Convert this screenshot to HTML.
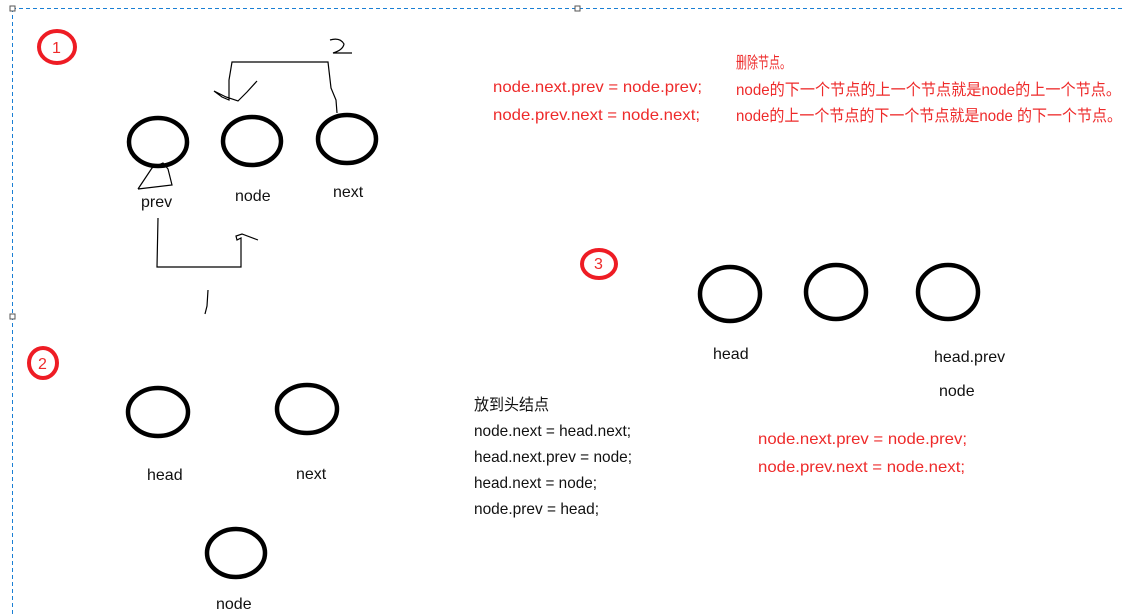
<!DOCTYPE html>
<html><head><meta charset="utf-8"><style>
html,body{margin:0;padding:0;background:#fff;}
svg{display:block;}
text{font-family:"Liberation Sans","Noto Sans CJK SC",sans-serif;font-size:16px;}
.k{fill:#111;}
.r{fill:#ee2a2a;}
</style></head><body>
<svg width="1124" height="614" viewBox="0 0 1124 614">
<g>
<line x1="12" y1="8.5" x2="1124" y2="8.5" stroke="#1a7fd4" stroke-width="1" stroke-dasharray="4,3"/>
<line x1="12.5" y1="8" x2="12.5" y2="614" stroke="#1a7fd4" stroke-width="1" stroke-dasharray="4,3"/>
<rect x="10" y="6" width="5" height="5" fill="#fff" stroke="#555"/>
<rect x="575" y="6" width="5" height="5" fill="#fff" stroke="#555"/>
<rect x="10" y="314" width="5" height="5" fill="#fff" stroke="#555"/>
</g>
<g fill="none" stroke="#ee1c24" stroke-width="4">
<ellipse cx="57" cy="47" rx="18" ry="16"/>
<ellipse cx="43" cy="363" rx="14" ry="15"/>
<ellipse cx="599" cy="264" rx="17" ry="14"/>
</g>
<text x="52" y="53" class="r">1</text>
<text x="38" y="369" class="r">2</text>
<text x="594" y="269" class="r">3</text>
<g fill="none" stroke="#000" stroke-width="4.5">
<ellipse cx="158" cy="142" rx="29" ry="24"/>
<ellipse cx="252" cy="141" rx="29" ry="24"/>
<ellipse cx="347" cy="139" rx="29" ry="24"/>
<ellipse cx="158" cy="412" rx="30" ry="24"/>
<ellipse cx="307" cy="409" rx="30" ry="24"/>
<ellipse cx="236" cy="553" rx="29" ry="24"/>
<ellipse cx="730" cy="294" rx="30" ry="27"/>
<ellipse cx="836" cy="292" rx="30" ry="27"/>
<ellipse cx="948" cy="292" rx="30" ry="27"/>
</g>
<g fill="none" stroke="#000" stroke-width="1.2">
<polyline points="337,113 336,100 331,88 328,62 232,62 229,80 229,100 222,97 214,91 226,97 238,101 247,92 257,81"/>
<path d="M330,40 Q340,37 344,44 Q343,50 333,53 L352,53"/>
<path d="M138,189 L152,168 L163,163 L168,169 L172,185 L138,189"/>
<polyline points="158,218 157,267 241,267 241,238 237,240 236,236 242,234 258,240"/>
<path d="M208,290 L207,306 L205,314"/>
</g>
<text x="141" y="207" class="k">prev</text>
<text x="235" y="201" class="k">node</text>
<text x="333" y="197" class="k">next</text>
<text x="147" y="480" class="k">head</text>
<text x="296" y="479" class="k">next</text>
<text x="216" y="609" class="k">node</text>
<text x="713" y="359" class="k">head</text>
<text x="934" y="362" class="k">head.prev</text>
<text x="939" y="396" class="k">node</text>
<g>
<text x="493" y="92" class="r" textLength="209" lengthAdjust="spacingAndGlyphs">node.next.prev = node.prev;</text>
<text x="493" y="120" class="r" textLength="207" lengthAdjust="spacingAndGlyphs">node.prev.next = node.next;</text>
</g>
<g>
<text x="736" y="68" class="r" textLength="55" lengthAdjust="spacingAndGlyphs">删除节点。</text>
<text x="736" y="95" class="r" textLength="385" lengthAdjust="spacingAndGlyphs">node的下一个节点的上一个节点就是node的上一个节点。</text>
<text x="736" y="121" class="r" textLength="386" lengthAdjust="spacingAndGlyphs">node的上一个节点的下一个节点就是node 的下一个节点。</text>
</g>
<g>
<text x="474" y="410" class="k" textLength="75" lengthAdjust="spacingAndGlyphs">放到头结点</text>
<text x="474" y="436" class="k" textLength="157" lengthAdjust="spacingAndGlyphs">node.next = head.next;</text>
<text x="474" y="462" class="k" textLength="158" lengthAdjust="spacingAndGlyphs">head.next.prev = node;</text>
<text x="474" y="488" class="k" textLength="123" lengthAdjust="spacingAndGlyphs">head.next = node;</text>
<text x="474" y="514" class="k" textLength="125" lengthAdjust="spacingAndGlyphs">node.prev = head;</text>
</g>
<g>
<text x="758" y="444" class="r" textLength="209" lengthAdjust="spacingAndGlyphs">node.next.prev = node.prev;</text>
<text x="758" y="472" class="r" textLength="207" lengthAdjust="spacingAndGlyphs">node.prev.next = node.next;</text>
</g>
</svg>
</body></html>
